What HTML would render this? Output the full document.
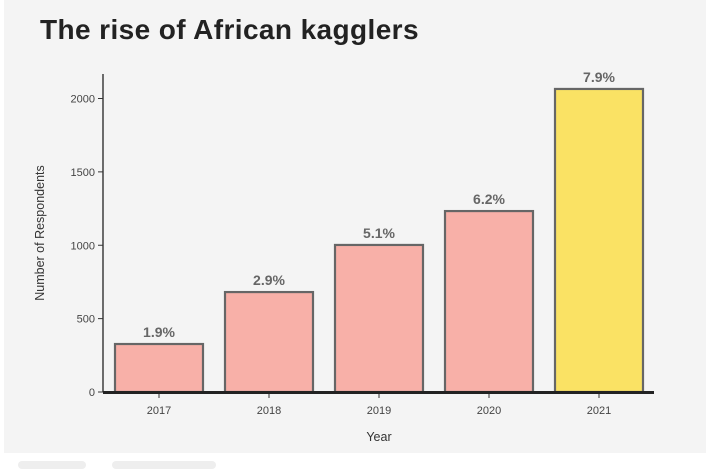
<!DOCTYPE html>
<html><head><meta charset="utf-8"><style>
body{margin:0;width:712px;height:464px;background:#fff;font-family:"Liberation Sans",sans-serif;overflow:hidden;position:relative}
#panel{position:absolute;left:4px;top:0;width:702px;height:453px;background:#f4f4f4}
.pill{position:absolute;top:461px;height:8px;background:#eee;border-radius:4px}
</style></head><body>
<div id="panel"></div>
<div class="pill" style="left:18px;width:68px"></div>
<div class="pill" style="left:112px;width:104px"></div>
<svg id="chart" width="712" height="464" style="position:absolute;left:0;top:0">
<text x="40" y="39" font-size="28" font-weight="bold" fill="#222" letter-spacing="0.4">The rise of African kagglers</text>
<text transform="translate(44,233) rotate(-90)" text-anchor="middle" font-size="12.5" fill="#333">Number of Respondents</text>
<text x="379" y="441" text-anchor="middle" font-size="12.5" fill="#333">Year</text>
<g id="g"></g>
</svg>
<script>
const years=["2017","2018","2019","2020","2021"];
const respondents=[327,681,1002,1233,2065];
const pctLabels=["1.9%","2.9%","5.1%","6.2%","7.9%"];
const yTicks=[0,500,1000,1500,2000];
const NS="http://www.w3.org/2000/svg";
const g=document.getElementById('g');
const y=v=>392-v*0.14675;
const x=i=>159+i*110;
function mk(t,a){const e=document.createElementNS(NS,t);for(const k in a)e.setAttribute(k,a[k]);g.appendChild(e);return e;}
let e=mk('line',{x1:103,y1:74,x2:103,y2:392,stroke:'#222','stroke-width':1.3});


yTicks.forEach(v=>{
 let t=mk('line',{x1:98,x2:103,y1:y(v),y2:y(v),stroke:'#333'});
 
 
 let l=mk('text',{x:95,y:y(v)+4,'text-anchor':'end','font-size':11,fill:'#444'});
 l.textContent=v;
 
 
});
years.forEach((yr,i)=>{
 const v=respondents[i];
 let b=mk('rect',{x:x(i)-44,y:y(v),width:88,height:392-y(v),fill:i==4?'#fae264':'#f8b0a8',stroke:'#666','stroke-width':2.2});
 
 
 let p=mk('text',{x:x(i),y:y(v)-7,'text-anchor':'middle','font-size':14,'font-weight':'bold',fill:'#666'});
 p.textContent=pctLabels[i];
 
 
 let t=mk('line',{x1:x(i),x2:x(i),y1:392,y2:398,stroke:'#333'});
 
 
 let l=mk('text',{x:x(i),y:414,'text-anchor':'middle','font-size':11,fill:'#444'});
 l.textContent=yr;
 
 
});
e=mk('line',{x1:103,y1:392.5,x2:654,y2:392.5,stroke:'#222','stroke-width':3});


</script>
</body></html>
